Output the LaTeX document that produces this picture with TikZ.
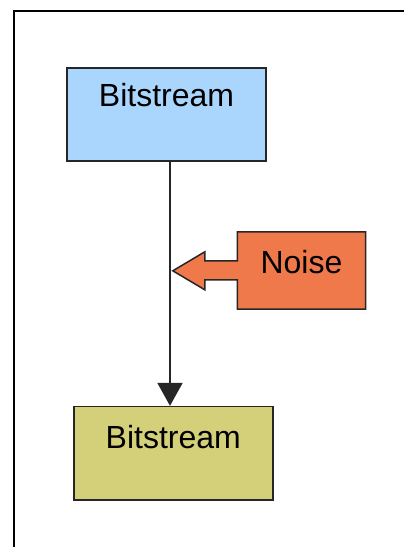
\documentclass[tikz,border=0pt]{standalone}
\usepackage{fontspec}
\setmainfont{Liberation Sans}
\usetikzlibrary{arrows.meta,backgrounds}

\definecolor{streamblue}{RGB}{170,214,254}
\definecolor{streamolive}{RGB}{212,208,122}
\definecolor{noiseorange}{RGB}{240,121,76}

\begin{document}
\begin{tikzpicture}[x=1pt,y=-1pt]
        % Define styles
        \tikzset{
            box/.style={rectangle, draw=black!85, line width=1.5pt, inner sep=0pt,
                minimum width=199pt, text height=38.5pt, text depth=54.5pt,
                font=\fontsize{32}{38}\selectfont},
            source/.style={box, fill=streamblue},
            sink/.style={box, fill=streamolive, text height=41.5pt, text depth=52pt},
            noisebox/.style={inner sep=0pt, minimum width=128pt, text height=41pt,
                text depth=36pt, font=\fontsize{32}{38}\selectfont},
            noiseedge/.style={draw=black!85, fill=noiseorange, line width=1.5pt, line join=miter},
            flow/.style={-{Triangle[width=25pt,length=23pt]}, line width=2pt, draw=black!85},
            frame/.style={line width=2pt, draw=black}
        }
        \useasboundingbox (0,0) rectangle (404,547);

        % Frame
        \coordinate (frame_corner) at (14,11);
        \draw[frame] (frame_corner |- 0,547) -- (frame_corner) -- (404,11);

        % Nodes
        \node[source] (stream_in) at (166.5,114.5) {Bitstream};
        \node[sink] (stream_out) at (173.3,453.3) {Bitstream};
        \node[noisebox] (noise) at (301.5,270.5) {Noise};

        % Noise pointer, drawn behind its label
        \begin{scope}[on background layer]
            \draw[noiseedge] (noise.north west) -- ++(0,29) -- ++(-32.5,0) -- ++(0,-9)
                -- ++(-32,19) -- ++(32,19) -- ++(0,-10) -- ++(32.5,0)
                -- (noise.south west) -- (noise.south east) -- (noise.north east) -- cycle;
        \end{scope}

        % Arrows
        \coordinate (link) at (170,0);
        \draw[flow] (stream_in.south -| link) -- (stream_out.north -| link);
    \end{tikzpicture}
\end{document}
